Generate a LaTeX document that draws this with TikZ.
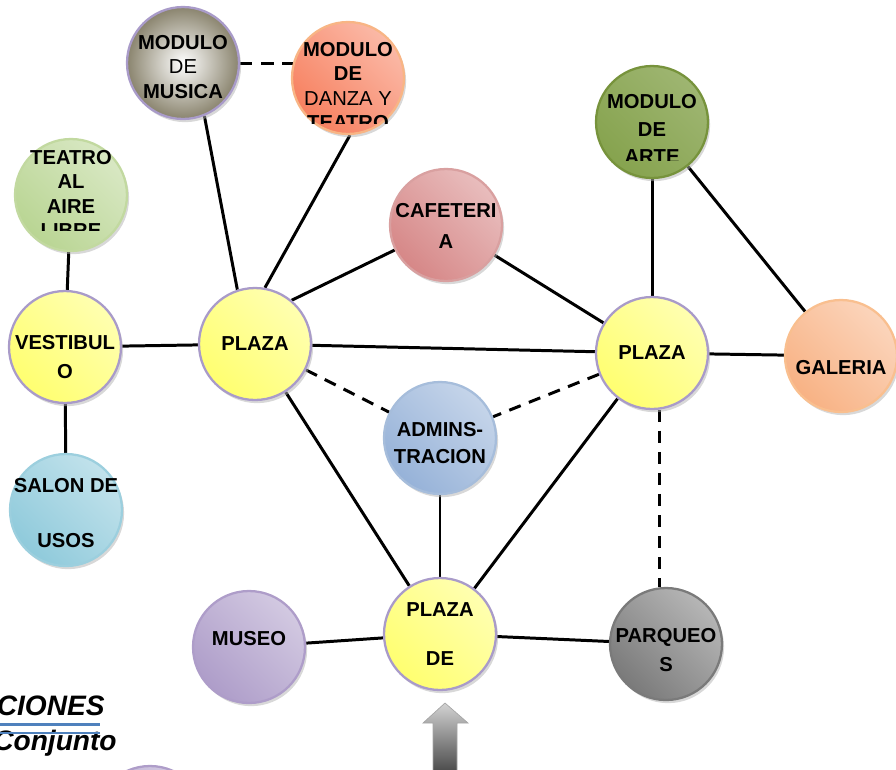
\documentclass[tikz,border=0pt]{standalone}
\usepackage{fontspec}
\setmainfont{Liberation Sans}
\usetikzlibrary{positioning,calc,shadows,backgrounds}

\definecolor{lilacLine}{HTML}{A99BC9}
\definecolor{musicaGray}{HTML}{8A846E}
\definecolor{danzaRed}{HTML}{F7805F}
\definecolor{danzaLine}{HTML}{F8B585}
\definecolor{teatroGreen}{HTML}{B9D593}
\definecolor{teatroLine}{HTML}{C2D9A0}
\definecolor{cafeRed}{HTML}{D68787}
\definecolor{cafeLine}{HTML}{D9A0A0}
\definecolor{arteGreen}{HTML}{86A34E}
\definecolor{arteLine}{HTML}{77933C}
\definecolor{plazaYellow}{HTML}{FFFF70}
\definecolor{galeriaPeach}{HTML}{F8B284}
\definecolor{galeriaLine}{HTML}{F9BF8F}
\definecolor{adminBlue}{HTML}{96B2D8}
\definecolor{adminLine}{HTML}{A6BDDB}
\definecolor{salonCyan}{HTML}{8FCADB}
\definecolor{salonLine}{HTML}{9CCFDE}
\definecolor{museoLilac}{HTML}{AE9DC9}
\definecolor{parqueoGray}{HTML}{7A7A7A}
\definecolor{ruleBlue}{HTML}{4F81BD}

\tikzset{
  bubble/.style={circle, minimum size=2.24cm, inner sep=0pt, line width=1.3pt,
    drop shadow={shadow xshift=1.2pt, shadow yshift=-1.8pt, fill=black!30}},
  gloss/.style={left color=#1, middle color=#1!18!white, right color=#1!55!white,
    shading angle=135},
  lbl/.style={font=\bfseries\fontsize{11.5}{14}\selectfont, align=center, inner sep=0pt},
  link/.style={line width=1.7pt},
  maybe/.style={link, dash pattern=on 7pt off 5pt},
  heading/.style={font=\bfseries\itshape\fontsize{16}{19}\selectfont, inner sep=0pt}
}

% bubble name, shift of the text, depth of the cut below the centre, text
\newcommand\cutlabel[4]{%
  \begin{scope}
    \clip ($(#1.center)+(-62,-62)$) rectangle ($(#1.center)+(62,#3)$);
    \node[lbl] (#1-txt) at ($(#1.center)+(0,#2)$) {#4};
  \end{scope}}

\begin{document}
\begin{tikzpicture}[x=0.02cm, y=-0.02cm]
\useasboundingbox (0,0) rectangle (896,769);

\node[bubble, draw=lilacLine, inner color=white, outer color=musicaGray] (musica) at (183,63) {};
\node[bubble, draw=danzaLine, gloss=danzaRed] (danza) at (348,78) {};
\node[bubble, draw=teatroLine, gloss=teatroGreen] (teatro) at (71,195) {};
\node[bubble, draw=cafeLine, gloss=cafeRed] (cafe) at (446,225) {};
\node[bubble, draw=arteLine, left color=arteGreen, middle color=arteGreen!55!white, right color=arteGreen!80!white, shading angle=135] (arte) at (652,122) {};
\node[bubble, draw=lilacLine, gloss=plazaYellow] (vestibulo) at (65,347) {};
\node[bubble, draw=lilacLine, gloss=plazaYellow] (plazaL) at (255,344) {};
\node[bubble, draw=lilacLine, gloss=plazaYellow] (plazaR) at (652,353) {};
\node[bubble, draw=galeriaLine, gloss=galeriaPeach] (galeria) at (841,356) {};
\node[bubble, draw=adminLine, gloss=adminBlue] (admin) at (440,438) {};
\node[bubble, draw=salonLine, gloss=salonCyan] (salon) at (66,510) {};
\node[bubble, draw=museoLilac, gloss=museoLilac] (museo) at (249,647) {};
\node[bubble, draw=lilacLine, gloss=plazaYellow] (plazaDe) at (440,634) {};
\node[bubble, draw=parqueoGray, gloss=parqueoGray] (parqueos) at (666,644) {};
\node[bubble, draw=museoLilac, gloss=museoLilac] (lowBubble) at (150,822) {};

\begin{scope}[on background layer]
\path[link]
(musica.-68) edge (plazaL.108)
(danza.-88) edge (plazaL.80)
(teatro) edge (vestibulo)
(vestibulo) edge (plazaL)
(vestibulo) edge (salon)
(plazaL.50) edge (cafe.206)
(plazaL) edge (plazaR)
(plazaL) edge (plazaDe)
(cafe) edge (plazaR)
(arte) edge (plazaR)
(arte) edge (galeria)
(plazaR) edge (galeria)
(plazaR) edge (plazaDe)
(admin) edge (plazaDe)
(museo) edge (plazaDe)
(plazaDe) edge (parqueos);
\path[maybe]
(musica) edge (musica -| danza)
(plazaL) edge (admin)
(plazaR) edge (admin)
(plazaR.-82) edge (plazaR.-82 |- parqueos.north);
\end{scope}

\cutlabel{musica}{4}{60}{MODULO\\\mdseries DE\\MUSICA}
\cutlabel{danza}{8}{45}{MODULO\\DE\\\mdseries DANZA Y\\TEATRO}
\cutlabel{teatro}{-1}{35}{TEATRO\\AL\\AIRE\\LIBRE}
\cutlabel{cafe}{1}{60}{CAFETERI\\[3.5pt]A}
\cutlabel{arte}{7}{38}{MODULO\\[1.5pt]DE\\[1.5pt]ARTE}
\cutlabel{vestibulo}{10}{60}{VESTIBUL\\[3pt]O}
\cutlabel{plazaL}{0}{60}{PLAZA}
\cutlabel{plazaR}{0}{60}{PLAZA}
\cutlabel{galeria}{12}{60}{GALERIA}
\cutlabel{admin}{5}{60}{ADMINS-\\[1pt]TRACION}
\cutlabel{salon}{3}{37}{SALON DE\\[1.5pt]\\[1.5pt]USOS}
\cutlabel{museo}{-8}{60}{MUSEO}
\cutlabel{plazaDe}{0}{32}{PLAZA\\\\DE}
\cutlabel{parqueos}{6}{60}{PARQUEO\\[2pt]S}

\node[heading, anchor=base east] (headA) at (105,715) {CIONES};
\node[heading, anchor=base east] (headB) at (117,750) {Conjunto};
\draw[ruleBlue, line width=1.8pt] (0,724.5) -- (100,724.5);
\draw[ruleBlue, line width=0.6pt] (0,733) -- (100,733);

\shade[top color=gray!35, bottom color=black!85, draw=gray!70, line width=0.4pt]
(433,790) -- (433,723) -- (423,723) -- (445,703) -- (468,723) -- (457,723) -- (457,790) -- cycle;
\end{tikzpicture}
\end{document}
